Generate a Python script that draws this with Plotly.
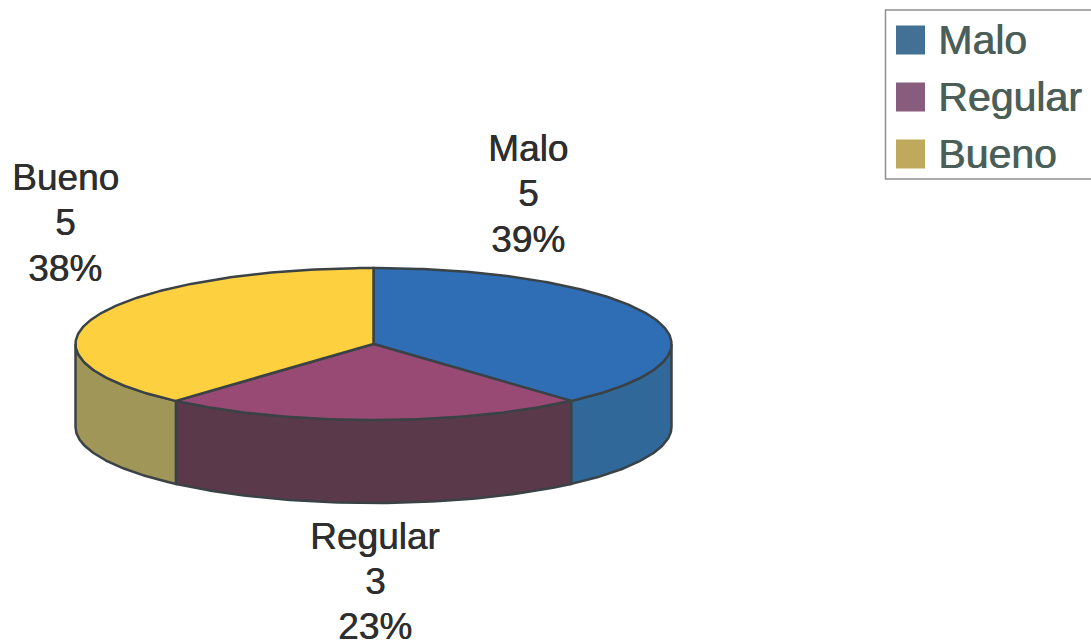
import numpy as np
import plotly.graph_objects as go

categories = ["Malo", "Regular", "Bueno"]
values = [5, 3, 5]
percent_labels = ["39%", "23%", "38%"]
top_colors = ["#2f6db5", "#984a75", "#fdd040"]
side_colors = ["#2f6899", "#5a3a4a", "#a09658"]
legend_colors = ["#437196", "#875c7c", "#bfa95c"]

CX, CY, RX, RY, DEPTH = 373.5, 344, 298, 76, 83
OUT = "#3b4246"
TXT = "#2e2e2e"
LEG = "#4b5f58"


def pt(deg):
    a = np.radians(np.asarray(deg, dtype=float))
    return CX + RX * np.sin(a), CY - RY * np.cos(a)


fig = go.Figure()
total = sum(values)
edges = np.concatenate([[0], np.cumsum(values) / total * 360])

# side walls (visible front half: 90..270 degrees clockwise from the top)
for i, name in enumerate(categories):
    lo, hi = max(edges[i], 90), min(edges[i + 1], 270)
    if hi <= lo:
        continue
    t = np.linspace(lo, hi, 80)
    x, y = pt(t)
    fig.add_trace(go.Scatter(
        x=np.concatenate([x, x[::-1], x[:1]]),
        y=np.concatenate([y, y[::-1] + DEPTH, y[:1]]),
        mode="lines", fill="toself", fillcolor=side_colors[i],
        line=dict(color=OUT, width=2.5), hoverinfo="skip", showlegend=False,
    ))

# top face slices
for i, name in enumerate(categories):
    t = np.linspace(edges[i], edges[i + 1], 160)
    x, y = pt(t)
    fig.add_trace(go.Scatter(
        x=np.concatenate([[CX], x, [CX]]),
        y=np.concatenate([[CY], y, [CY]]),
        mode="lines", fill="toself", fillcolor=top_colors[i],
        line=dict(color=OUT, width=2.5), name=name, hoverinfo="name", showlegend=False,
    ))

label_x = [528, 375, 65]
label_y = [(148, 193, 239), (536, 581, 626), (177, 222, 268)]
annotations = []
for name, v, p, lx, lys in zip(categories, values, percent_labels, label_x, label_y):
    for line, ly in zip((name, str(v), p), lys):
        annotations.append(dict(
            x=lx, y=ly, xref="x", yref="y", showarrow=False,
            text=line, align="center",
            font=dict(family="Liberation Sans", size=37, color=TXT, shadow=f"0.6px 0 0 {TXT}"),
        ))

shapes = [dict(type="rect", x0=885.5, x1=1100, y0=10, y1=179, xref="x", yref="y",
               line=dict(color="#8f8f8f", width=1.5), fillcolor="rgba(0,0,0,0)")]
legend_y = [40, 97, 154]
for name, c, ly in zip(categories, legend_colors, legend_y):
    shapes.append(dict(type="rect", x0=896, x1=925, y0=ly - 14.5, y1=ly + 14.5,
                       xref="x", yref="y", line=dict(width=0), fillcolor=c))
    annotations.append(dict(
        x=936, y=ly, xref="x", yref="y", showarrow=False, xanchor="left",
        text=name, font=dict(family="Liberation Sans", size=41, color=LEG, shadow=f"0.8px 0 0 {LEG}"),
    ))

fig.update_layout(
    width=1091, height=641, margin=dict(l=0, r=0, t=0, b=0),
    autosize=False, showlegend=False,
    paper_bgcolor="#ffffff", plot_bgcolor="#ffffff",
    xaxis=dict(range=[0, 1091], visible=False, fixedrange=True),
    yaxis=dict(range=[641, 0], visible=False, fixedrange=True),
    annotations=annotations, shapes=shapes,
)
fig.write_html(
    "out.html",
    config={"displayModeBar": False},
    post_script="document.body.style.margin='0';document.body.style.overflow='hidden';",
)
